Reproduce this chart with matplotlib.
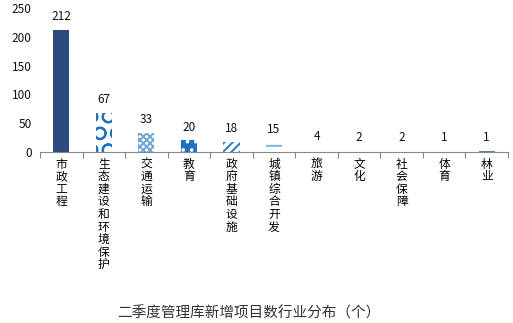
import matplotlib
matplotlib.use('Agg')
import matplotlib.pyplot as plt
import numpy as np

plt.rcParams['font.family'] = ['Noto Sans CJK SC', 'DejaVu Sans']
plt.rcParams['hatch.linewidth'] = 1.4

categories = ['市政工程', '生态建设和环境保护', '交通运输', '教育', '政府基础设施',
              '城镇综合开发', '旅游', '文化', '社会保障', '体育', '林业']
values = [212, 67, 33, 20, 18, 15, 4, 2, 2, 1, 1]
face_colors = ['#2D4A7E', 'white', 'white', '#1F72BE', 'white', 'white',
               'white', 'white', 'white', 'white', '#5A7FA8']
hatch_colors = ['#2D4A7E', '#1F72BE', '#6FA6D8', 'white', '#2A7BC0', '#7FB2DC',
                'white', 'white', 'white', 'white', '#5A7FA8']
hatches = [None, 'O', 'xxxxx', '..', '////', '--', None, None, None, None, None]
title = '二季度管理库新增项目数行业分布（个）'

fig = plt.figure(figsize=(5.13, 3.23), dpi=100)
ax = fig.add_axes([40 / 513, 171 / 323, 468 / 513, 144 / 323])

x = np.arange(len(categories))
for i, (v, fc, hc, h) in enumerate(zip(values, face_colors, hatch_colors, hatches)):
    ax.bar(x[i], v, width=0.38, color=fc, edgecolor=hc, hatch=h, linewidth=0)
    ax.annotate(str(v), (x[i], v), xytext=(0, 5), textcoords='offset points',
                ha='center', va='bottom', fontsize=8.5, color='#111111')

ax.set_xlim(-0.5, len(categories) - 0.5)
ax.set_ylim(0, 250)
ax.set_yticks([0, 50, 100, 150, 200, 250])
ax.tick_params(axis='y', length=0, labelsize=8.5, pad=6, colors='#111111')

# ticks between categories, labels at centers
ax.set_xticks(np.arange(-0.5, len(categories)), minor=False)
ax.set_xticklabels([])
ax.tick_params(axis='x', which='major', length=4, color='#888888', direction='out')
ax.set_xticks(x, minor=True)
ax.set_xticklabels(['\n'.join(c) for c in categories], minor=True,
                   fontsize=8.5, linespacing=0.96, va='top')
ax.tick_params(axis='x', which='minor', length=0, pad=4)

for s in ['top', 'right', 'left']:
    ax.spines[s].set_visible(False)
ax.spines['bottom'].set_color('#888888')

fig.text(249 / 513, 1 - 313 / 323, title, ha='center', va='center',
         fontsize=10.5, color='#333333')

plt.savefig('out.png', dpi=100)
plt.close()
